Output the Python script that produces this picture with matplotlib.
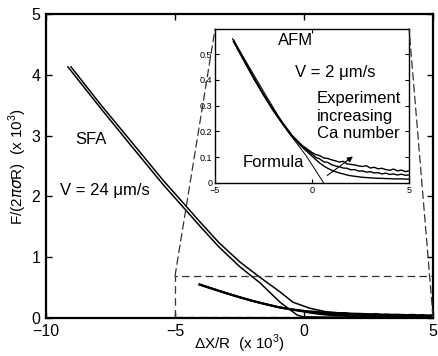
import matplotlib

matplotlib.use("Agg")
import matplotlib.pyplot as plt
from matplotlib.patches import ConnectionPatch

plt.rcParams["font.family"] = ["Liberation Sans", "DejaVu Sans"]
plt.rcParams["mathtext.fontset"] = "custom"
plt.rcParams["mathtext.rm"] = "Liberation Sans"

# SFA run (V = 24 um/s), two traces
sfa_x1 = [-9.03, -7.9, -6.75, -5.47, -4.03, -3.3, -2.48, -1.71, -0.93, -0.43, 0.23, 0.89, 1.78, 3.0, 5.0]
sfa_y1 = [4.13, 3.52, 2.93, 2.27, 1.58, 1.24, 0.92, 0.67, 0.43, 0.26, 0.16, 0.10, 0.066, 0.04, 0.03]
sfa_x2 = [-9.15, -7.9, -6.75, -5.47, -4.03, -3.3, -2.48, -1.71, -0.93, -0.27, -0.04, 1.0, 3.0, 5.0]
sfa_y2 = [4.13, 3.46, 2.86, 2.20, 1.51, 1.17, 0.84, 0.58, 0.26, 0.05, 0.02, 0.015, 0.012, 0.01]

# AFM runs (V = 2 um/s), three Ca numbers
afm_x = [-4.05, -3.5, -3.0, -2.5, -2.0, -1.5, -1.0, -0.5,
         0.0, 0.2, 0.4, 0.6, 0.8, 1.0, 1.2, 1.4, 1.6, 1.8, 2.0, 2.2, 2.4,
         2.6, 2.8, 3.0, 3.2, 3.4, 3.6, 3.8, 4.0, 4.2, 4.4, 4.6, 4.8, 5.0]
afm_hi = [0.555, 0.478, 0.410, 0.345, 0.285, 0.232, 0.182, 0.145,
          0.118, 0.110, 0.106, 0.097, 0.095, 0.090, 0.086, 0.081, 0.084, 0.074, 0.072, 0.070, 0.066,
          0.064, 0.067, 0.058, 0.061, 0.055, 0.057, 0.052, 0.049, 0.054, 0.047, 0.050, 0.044, 0.047]
afm_mid = [0.550, 0.474, 0.406, 0.342, 0.282, 0.229, 0.180, 0.142,
           0.112, 0.099, 0.093, 0.082, 0.080, 0.071, 0.066, 0.063, 0.058, 0.057, 0.051, 0.052, 0.046,
           0.047, 0.042, 0.044, 0.039, 0.040, 0.035, 0.038, 0.033, 0.035, 0.031, 0.034, 0.030, 0.031]
afm_lo = [0.548, 0.472, 0.404, 0.340, 0.280, 0.226, 0.176, 0.138,
          0.104, 0.090, 0.077, 0.066, 0.057, 0.050, 0.044, 0.039, 0.035, 0.031, 0.028, 0.026, 0.024,
          0.022, 0.021, 0.020, 0.019, 0.018, 0.018, 0.017, 0.017, 0.016, 0.016, 0.016, 0.015, 0.015]

formula_x = [-4.1, -2.5, -1.3, -0.3, 0.6]
formula_y = [0.56, 0.355, 0.205, 0.105, 0.0]

main_xticks = [-10, -5, 0, 5]
main_yticks = [0, 1, 2, 3, 4, 5]
inset_xticks = [-5, 0, 5]
inset_yticks = [0, 0.1, 0.2, 0.3, 0.4, 0.5]
inset_yticklabels = ["0", "0.1", "0.2", "0.3", "0.4", "0.5"]

fig = plt.figure(figsize=(4.38, 3.56), dpi=100)
ax = fig.add_axes([0.105, 0.1067, 0.8836, 0.854])

ax.plot(sfa_x1, sfa_y1, color="black", lw=1.1)
ax.plot(sfa_x2, sfa_y2, color="black", lw=1.1)
for ys in (afm_hi, afm_mid, afm_lo):
    ax.plot(afm_x, ys, color="black", lw=1.4)

# zoom box
dash = dict(color="#333333", lw=0.9, ls=(0, (6, 3.5)))
ax.plot([-5, -5, 5], [0.02, 0.69, 0.69], **dash)
ax.plot([-5, 5], [0.02, 0.02], **dash)

ax.set_xlim(-10, 5)
ax.set_ylim(0, 5)
ax.set_xticks(main_xticks)
ax.set_xticklabels(["\u221210", "\u22125", "0", "5"])
ax.set_yticks(main_yticks)
ax.tick_params(direction="in", top=True, right=True, labelsize=11.5, length=4, width=1, pad=4)
for sp in ax.spines.values():
    sp.set_linewidth(1.6)
ax.set_xlabel(r"$\Delta$X/R  (x 10$^3$)", fontsize=11, labelpad=-4)
ax.set_ylabel(r"F/(2$\pi\sigma$R)  (x 10$^3$)", fontsize=11, labelpad=2)

ax.text(-8.88, 2.93, "SFA", fontsize=12, va="center")
ax.text(-9.46, 2.1, "V = 24 \u03bcm/s", fontsize=12, va="center")

# inset
ins = fig.add_axes([0.491, 0.486, 0.443, 0.4326])
for ys in (afm_hi, afm_mid, afm_lo):
    ins.plot(afm_x, ys, color="black", lw=1.0)
ins.plot(formula_x, formula_y, color="black", lw=0.7)
ins.set_xlim(-5, 5)
ins.set_ylim(0, 0.597)
ins.set_xticks(inset_xticks)
ins.set_xticklabels(["\u22125", "0", "5"])
ins.set_yticks(inset_yticks)
ins.set_yticklabels(inset_yticklabels)
ins.tick_params(direction="in", top=True, right=True, labelsize=6.5, length=3, width=0.8, pad=2)
for sp in ins.spines.values():
    sp.set_linewidth(1.0)

ins.text(-1.75, 0.554, "AFM", fontsize=12, va="center")
ins.text(-0.88, 0.428, "V = 2 \u03bcm/s", fontsize=12, va="center")
ins.text(0.26, 0.355, "Experiment\nincreasing\nCa number", fontsize=12, va="top",
         linespacing=1.2)
ins.text(-3.6, 0.078, "Formula", fontsize=12, va="center")
ins.annotate("", xy=(2.22, 0.109), xytext=(0.67, 0.023),
             arrowprops=dict(arrowstyle="-|>", color="black", lw=0.8, mutation_scale=8))

for xy_main, xy_ins in (((-5, 0.69), (0, 1)), ((5, 0.02), (1, 1))):
    con = ConnectionPatch(xyA=xy_main, coordsA=ax.transData,
                          xyB=xy_ins, coordsB=ins.transAxes, **dash)
    fig.add_artist(con)

fig.savefig("out.png", dpi=100)
